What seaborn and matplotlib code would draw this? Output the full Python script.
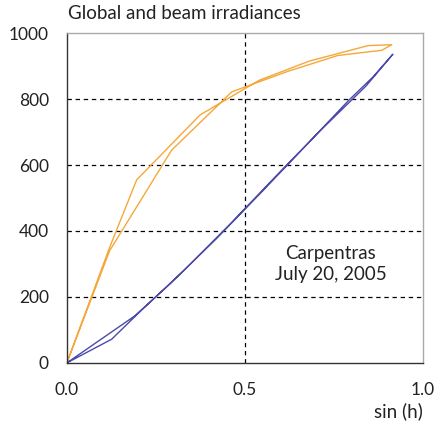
import numpy as np
import pandas as pd
import matplotlib
matplotlib.use("Agg")
import matplotlib.pyplot as plt
import seaborn as sns

# Global irradiance: morning branch then afternoon branch (sin(h), W/m2)
global_am_x = [0.0, 0.12, 0.196, 0.374, 0.54, 0.68, 0.845, 0.912]
global_am_y = [0, 350, 555, 752, 857, 915, 962, 965]
global_pm_x = [0.912, 0.884, 0.76, 0.62, 0.463, 0.294, 0.12, 0.0]
global_pm_y = [965, 948, 932, 884, 822, 645, 340, 0]

# Beam irradiance: morning branch then afternoon branch
beam_am_x = [0.0, 0.126, 0.20, 0.33, 0.46, 0.59, 0.71, 0.84, 0.915]
beam_am_y = [0, 72, 150, 282, 423, 570, 703, 840, 936]
beam_pm_x = [0.915, 0.86, 0.79, 0.67, 0.55, 0.42, 0.29, 0.19, 0.0]
beam_pm_y = [936, 868, 795, 658, 522, 377, 240, 142, 0]

x_ticks = [0.0, 0.5, 1.0]
x_tick_labels = ["0.0", "0.5", "1.0"]
y_ticks = [0, 200, 400, 600, 800, 1000]

title = "Global and beam irradiances"
xlabel = "sin (h)"
note = "Carpentras\nJuly 20, 2005"

sns.set_theme(style="white")
plt.rcParams["font.family"] = ["Lato", "DejaVu Sans"]

fig = plt.figure(figsize=(4.34, 4.30), dpi=100)
ax = fig.add_axes([0.154, 0.156, 0.821, 0.767])

df_g = pd.DataFrame({"x": global_am_x + global_pm_x, "y": global_am_y + global_pm_y})
df_b = pd.DataFrame({"x": beam_am_x + beam_pm_x, "y": beam_am_y + beam_pm_y})

sns.lineplot(data=df_g, x="x", y="y", sort=False, estimator=None, ax=ax,
             color="#F5A83A", linewidth=1.0)
sns.lineplot(data=df_b, x="x", y="y", sort=False, estimator=None, ax=ax,
             color="#4C4AA8", linewidth=1.0)

ax.set_xlim(0, 1.0)
ax.set_ylim(0, 1000)
ax.set_xticks(x_ticks)
ax.set_xticklabels(x_tick_labels)
ax.set_yticks(y_ticks)

for yv in y_ticks[1:-1]:
    ax.axhline(yv, color="black", linestyle=(0, (3.5, 3)), linewidth=0.9, zorder=0)
ax.axvline(0.5, color="black", linestyle=(0, (3.5, 3)), linewidth=0.9, zorder=0)

for side in ["left", "bottom"]:
    ax.spines[side].set_color("#333333")
    ax.spines[side].set_linewidth(1.0)
for side in ["top", "right"]:
    ax.spines[side].set_color("#AAAAAA")
    ax.spines[side].set_linewidth(1.0)

ax.tick_params(axis="both", which="major", direction="out", length=5, width=1,
               color="#333333", labelsize=12.5, labelcolor="#222222")
ax.tick_params(axis="y", pad=8)
ax.tick_params(axis="x", pad=9)
ax.set_xlabel("")
ax.set_ylabel("")

fig.text(0.157, 0.948, title, fontsize=13.5, color="#222222", ha="left", va="bottom")
fig.text(0.975, 0.022, xlabel, fontsize=13.5, color="#222222", ha="right", va="bottom")
ax.text(0.74, 300, note, fontsize=13.5, color="#222222", ha="center", va="center",
        linespacing=1.25)

fig.savefig("out.png", dpi=100)
